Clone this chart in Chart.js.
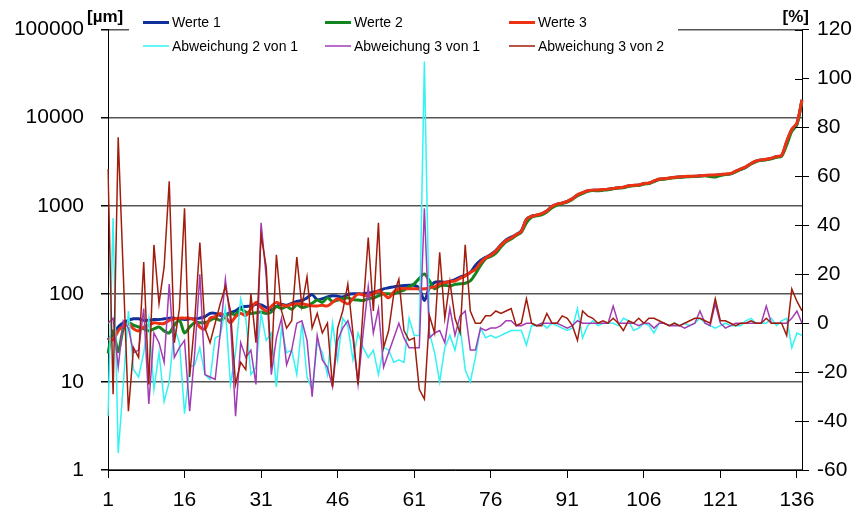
<!DOCTYPE html>
<html>
<head>
<meta charset="utf-8">
<script src="https://cdn.jsdelivr.net/npm/chart.js@4"></script>
<style>
  body { margin: 0; background: #fff; }
  canvas { display: block; }
</style>
</head>
<body>
<canvas id="chart" width="859" height="513"></canvas>
<script>
// x categories 1..137
const labels = Array.from({ length: 137 }, (_, i) => String(i + 1))

// values in µm (left log axis)
const werte1 = [
  30, 35, 42, 47, 50, 52, 52, 50, 50, 51,
  51, 52, 53, 53, 52, 51, 52, 52, 53, 55,
  60, 60, 57, 58, 61, 64, 70, 72, 73, 76,
  75, 70, 66, 72, 76, 74, 78, 82, 84, 90,
  98, 86, 88, 92, 95, 94, 92, 98, 100, 100,
  100, 102, 104, 108, 114, 117, 120, 123, 124, 125,
  125, 115, 84, 118, 135, 137, 135, 138, 145, 155,
  162, 175, 210, 240, 260, 280, 310, 360, 410, 440,
  470, 520, 700, 760, 780, 810, 870, 980, 1040, 1070,
  1120, 1200, 1320, 1400, 1470, 1500, 1500, 1520, 1540, 1570,
  1600, 1620, 1680, 1700, 1720, 1780, 1800, 1900, 2000, 2020,
  2060, 2100, 2120, 2140, 2150, 2160, 2180, 2200, 2200, 2220,
  2250, 2270, 2300, 2450, 2600, 2750, 3000, 3200, 3300, 3350,
  3450, 3600, 3700, 5300, 7300, 8500, 16000
]
const werte2 = [
  21, 38, 22, 40, 47, 44, 42, 40, 38, 40,
  42, 38, 36, 44, 50, 36, 42, 47, 47, 47,
  50, 53, 50, 55, 60, 58, 67, 62, 60, 61,
  62, 60, 62, 72, 68, 72, 67, 75, 70, 72,
  78, 85, 80, 90, 82, 85, 88, 90, 86, 85,
  84, 88, 90, 95, 100, 100, 100, 105, 110, 120,
  130, 150, 168, 140, 114, 123, 125, 123, 128, 130,
  132, 140, 168, 210, 250, 265, 290, 340, 390, 420,
  460, 500, 640, 740, 770, 790, 850, 950, 1020, 1060,
  1100, 1180, 1300, 1380, 1460, 1490, 1480, 1500, 1520, 1560,
  1590, 1600, 1660, 1690, 1700, 1760, 1790, 1880, 1980, 2000,
  2050, 2080, 2100, 2130, 2140, 2150, 2170, 2190, 2150, 2120,
  2200, 2260, 2300, 2430, 2580, 2740, 2980, 3180, 3280, 3330,
  3420, 3560, 3650, 4900, 7000, 8300, 15500
]
const werte3 = [
  31, 30, 38, 43, 46, 40, 38, 42, 44, 47,
  46, 46, 50, 52, 53, 53, 53, 50, 42, 40,
  53, 55, 60, 55, 47, 55, 60, 57, 67, 80,
  70, 64, 72, 80, 75, 73, 76, 77, 77, 75,
  73, 73, 74, 73, 80, 88, 82, 77, 88, 100,
  97, 95, 100, 108, 100, 90, 105, 114, 115, 114,
  114, 114, 114, 117, 120, 130, 134, 138, 140, 150,
  160, 175, 190, 225, 255, 275, 305, 355, 400, 430,
  470, 510, 700, 760, 785, 815, 870, 985, 1045, 1075,
  1125, 1205, 1330, 1410, 1480, 1505, 1510, 1525, 1545, 1575,
  1605, 1625, 1690, 1705, 1725, 1790, 1810, 1910, 2010, 2030,
  2070, 2110, 2130, 2150, 2160, 2170, 2190, 2210, 2230, 2240,
  2270, 2290, 2320, 2470, 2620, 2770, 3020, 3220, 3320, 3370,
  3470, 3620, 3720, 5400, 7400, 8700, 16000
]

// deviations in % (right axis)
const abw21 = [
  -38, 43, -53, -25, 5, -19, -22, -12, 2, -27,
  -12, -32, -24, -2, -8, -37, -18, -17, -10, -21,
  -23, -6, -5, 6, -25, -12, 10, 2, -21, -18,
  4, -7, -4, -26, -2, -12, -11, -21, 0, -22,
  -27, -8, -12, -21, 0, -15, 2, -1, -15, -4,
  -10, -14, -11, -21, -10, -11, -16, -15, -16, 2,
  -5, -5, 107, -4, -12, -24, -10, -5, -11, -1,
  -19, -24, -14, -2, -6, -5, -6, -5, -4, -3,
  -3, -3, -9, -1, -1, 0, -2, 0, -1, -2,
  -3, -2, 6, -6, -1, 1, -1, 0, 0, 0,
  -1, 2, 1, -3, -2, 0, -1, -4, 0, 0,
  -1, 0, -1, 0, -1, 0, 2, 0, -1, -2,
  -1, 0, -1, -1, -1, 1, 2, 0, 0, 0,
  2, -1, 1, 2, -10, -4, -5
]
const abw31 = [
  0, 2, -18, 1, -2, -12, -11, 6, -33, -4,
  -8, -16, 16, -14, -10, -7, -36, -12, 20, -21,
  -22, -23, -4, 18, 1, -38, -8, -14, -11, -25,
  41, 19, -21, -6, 2, -17, -11, 0, 1, -7,
  -30, -5, -15, -18, -26, -7, -2, 1, -6, -25,
  -4, 15, -4, 6, -18, -12, -6, 0, -6, -10,
  -10, -10, 47, -6, -4, -3, -8, 6, -5, 3,
  5, -11, -11, -2, -3, -2, -2, -1, 1, 1,
  -1, -1, 0, 0, -1, 0, 0, 0, 0, -1,
  -2, -1, 1, 0, 0, 0, 0, 0, 0, 7,
  0, 0, 0, 0, -1, 0, 0, -2, 0, 0,
  -1, -1, -1, -2, -1, 0, 5, 0, -1, 8,
  0, -2, -1, 0, 0, 0, 0, 0, 0, 7,
  0, 0, 0, 0, 2, 5, 0
]
const abw32 = [
  63, -29, 76, 20, -36, -10, -14, 25, -25, 32,
  8, 23, 58, -8, 6, 47, -22, 1, 33, -2,
  -8, 0, 8, 15, 5, -25, -16, -19, 12, -8,
  36, 23, -18, 28, 5, -2, 1, 27, 7, 19,
  -2, 4, -4, 0, -26, -2, 5, 16, -4, -25,
  6, 35, 5, 41, -10, -3, 12, 18, -3, -7,
  -6, -27, -31, 3, -4, 29, 2, 17, 2, -4,
  32, 5, 0, 0, 3, 3, 5, 4, 5, 6,
  -1, 0, 10, 0, -1, -1, 4, 0, 0, 3,
  2, -1, -7, 5, 3, 2, 0, 1, 0, 2,
  0, -3, 1, 0, 2, 0, 2, 2, 1, 0,
  -1, 0, -1, 0, 1, 2, 2, 1, 0, 10,
  1, 1, 0, -1, 0, 0, 1, 0, 0, 2,
  0, 0, 0, -5, 14, 9, 5
]

const leftTicks = [1, 10, 100, 1000, 10000, 100000]
const rightTicks = [-60, -40, -20, 0, 20, 40, 60, 80, 100, 120]

const FONT = "'Liberation Sans', Arial, sans-serif"

const colors = {
  w1: "#10309c", w2: "#12861e", w3: "#ec3212",
  a21: "#33f3f3", a31: "#a23cb4", a32: "#a01c0c"
}

// legend drawn by hand: two rows, three fixed columns, on a white box
const legendItems = [
  { text: "Werte 1", color: colors.w1, w: 3, x: 143, y: 22.5 },
  { text: "Werte 2", color: colors.w2, w: 3, x: 325, y: 22.5 },
  { text: "Werte 3", color: colors.w3, w: 3, x: 509, y: 22.5 },
  { text: "Abweichung 2 von 1", color: colors.a21, w: 1.5, x: 143, y: 46 },
  { text: "Abweichung 3 von 1", color: colors.a31, w: 1.5, x: 325, y: 46 },
  { text: "Abweichung 3 von 2", color: colors.a32, w: 1.5, x: 509, y: 46 }
]

const extras = {
  id: "extras",
  beforeDraw(chart) {
    const c = chart.ctx
    c.save()
    c.fillStyle = "#fff"
    c.fillRect(0, 0, chart.width, chart.height)
    c.restore()
  },
  afterDraw(chart) {
    const c = chart.ctx
    const y1 = chart.scales.y1
    c.save()
    // inner half of the right axis tick marks
    c.strokeStyle = "#000"
    c.lineWidth = 1
    rightTicks.forEach(v => {
      const py = Math.round(y1.getPixelForValue(v)) + 0.5
      c.beginPath()
      c.moveTo(y1.left - 7, py)
      c.lineTo(y1.left, py)
      c.stroke()
    })
    // legend box
    c.fillStyle = "#fff"
    c.fillRect(129, 0, 549, 57)
    c.font = "14px " + FONT
    c.textBaseline = "middle"
    legendItems.forEach(it => {
      c.strokeStyle = it.color
      c.lineWidth = it.w
      c.beginPath()
      c.moveTo(it.x, it.y)
      c.lineTo(it.x + 26, it.y)
      c.stroke()
      c.fillStyle = "#000"
      c.fillText(it.text, it.x + 29, it.y + 1)
    })
    // axis units
    c.font = "bold 17px " + FONT
    c.textBaseline = "alphabetic"
    c.textAlign = "left"
    c.fillText("[µm]", 87, 22)
    c.textAlign = "right"
    c.fillText("[%]", 809, 22)
    c.restore()
  }
}

const data = {
  labels: labels,
  datasets: [
    { label: "Werte 1", data: werte1, yAxisID: "y", borderColor: colors.w1, borderWidth: 3, tension: 0.3, order: 6 },
    { label: "Werte 2", data: werte2, yAxisID: "y", borderColor: colors.w2, borderWidth: 3, tension: 0.3, order: 5 },
    { label: "Werte 3", data: werte3, yAxisID: "y", borderColor: colors.w3, borderWidth: 3, tension: 0.3, order: 4 },
    { label: "Abweichung 2 von 1", data: abw21, yAxisID: "y1", borderColor: colors.a21, borderWidth: 1.5, order: 3 },
    { label: "Abweichung 3 von 1", data: abw31, yAxisID: "y1", borderColor: colors.a31, borderWidth: 1.5, order: 2 },
    { label: "Abweichung 3 von 2", data: abw32, yAxisID: "y1", borderColor: colors.a32, borderWidth: 1.5, order: 1 }
  ]
}

const tickFont = { family: FONT, size: 21 }

const config = {
  type: "line",
  data,
  options: {
    responsive: false,
    animation: false,
    layout: { padding: { top: 28, left: 0, right: 0, bottom: 0 } },
    elements: { point: { radius: 0 } },
    plugins: {
      legend: { display: false },
      tooltip: { enabled: false }
    },
    scales: {
      x: {
        offset: false,
        grid: { drawOnChartArea: false, tickLength: 8, color: "#000" },
        border: { color: "#000" },
        ticks: {
          autoSkip: false,
          maxRotation: 0,
          padding: 10,
          color: "#000",
          font: tickFont,
          callback: function (val, index) {
            return index % 15 === 0 ? this.getLabelForValue(val) : null
          }
        },
        afterFit(scale) { scale.height = 43 }
      },
      y: {
        type: "logarithmic",
        position: "left",
        min: 1,
        max: 100000,
        grid: { color: "#555", lineWidth: 1.5, tickLength: 7, tickColor: "#000" },
        border: { color: "#000" },
        ticks: {
          color: "#000",
          font: tickFont,
          padding: 17,
          callback: v => String(v)
        },
        afterBuildTicks(scale) { scale.ticks = leftTicks.map(v => ({ value: v })) },
        afterFit(scale) { scale.width = 108 }
      },
      y1: {
        type: "linear",
        position: "right",
        min: -60,
        max: 120,
        grid: { drawOnChartArea: false, tickLength: 7, color: "#000" },
        border: { color: "#000" },
        ticks: { stepSize: 20, color: "#000", font: tickFont, padding: 8 },
        afterBuildTicks(scale) { scale.ticks = rightTicks.map(v => ({ value: v })) },
        afterFit(scale) { scale.width = 57 }
      }
    }
  },
  plugins: [extras]
}

const myChart = new Chart(document.getElementById("chart").getContext("2d"), config)
</script>
</body>
</html>
